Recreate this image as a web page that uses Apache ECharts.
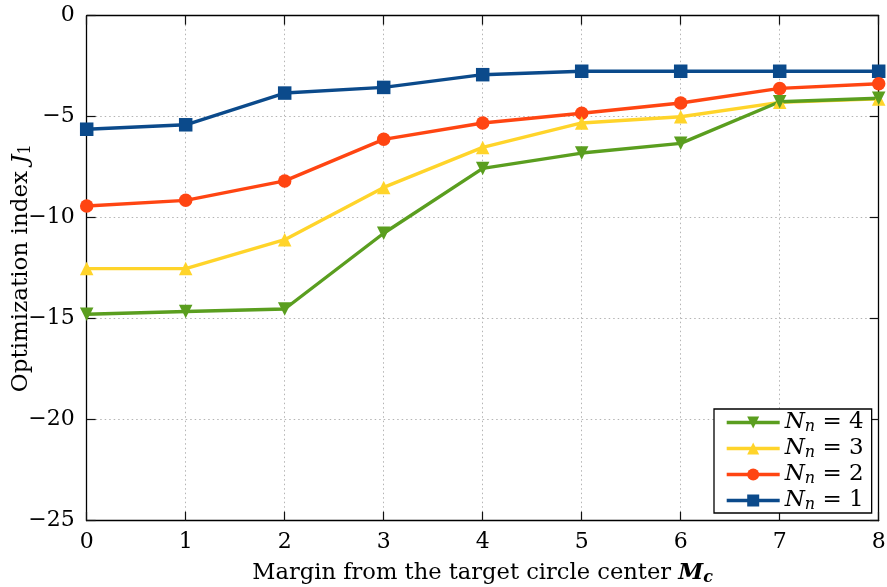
<!DOCTYPE html>
<html>
<head>
<meta charset="utf-8">
<script src="https://cdn.jsdelivr.net/npm/echarts@6/dist/echarts.min.js"></script>
<style>
  html, body { margin: 0; padding: 0; background: #fff; }
  #chart { width: 887px; height: 587px; }
</style>
</head>
<body>
<div id="chart"></div>
<script>
// Margin values on the x axis
const margins = [0, 1, 2, 3, 4, 5, 6, 7, 8];
// Optimization index J1 for each number of nodes N_n
const nn1 = [-5.62, -5.40, -3.83, -3.55, -2.92, -2.75, -2.75, -2.75, -2.75];
const nn2 = [-9.42, -9.14, -8.18, -6.12, -5.31, -4.83, -4.32, -3.60, -3.37];
const nn3 = [-12.52, -12.52, -11.09, -8.50, -6.52, -5.31, -5.00, -4.29, -4.12];
const nn4 = [-14.78, -14.64, -14.52, -10.77, -7.56, -6.80, -6.32, -4.26, -4.09];
const legendOrder = ['Nn4', 'Nn3', 'Nn2', 'Nn1'];
const legendLabels = { Nn4: '4', Nn3: '3', Nn2: '2', Nn1: '1' };

const FONT = 'DejaVu Serif';
const minus = v => String(v).replace('-', '\u2212');

const chart = echarts.init(document.getElementById('chart'));

function lineSeries(name, data, color, symbol, size, rotate) {
  return {
    name: name,
    type: 'line',
    data: margins.map((m, i) => [m, data[i]]),
    symbol: symbol,
    symbolSize: size,
    symbolRotate: rotate || 0,
    lineStyle: { color: color, width: 3.4 },
    itemStyle: { color: color },
    emphasis: { disabled: true },
    animation: false,
    clip: false
  };
}

const gridLine = { show: true, lineStyle: { color: '#b4b4b4', type: [1.5, 3], width: 1 } };
const axisLine = { show: true, onZero: false, lineStyle: { color: '#000', width: 1.3 } };
const tick = { show: true, inside: true, length: 9, lineStyle: { color: '#111', width: 1.2 } };

chart.setOption({
  backgroundColor: '#fff',
  animation: false,
  grid: {
    left: 86.7, right: 8.3, top: 15.7, bottom: 66.3,
    containLabel: false, outerBoundsMode: 'none'
  },
  xAxis: [{
    type: 'value', min: 0, max: 8, interval: 1,
    axisLine: axisLine, axisTick: tick, splitLine: gridLine,
    axisLabel: { color: '#000', fontFamily: FONT, fontSize: 22, margin: 11 },
    name: '{t|Margin from the target circle center }{m|M}{c|c}',
    nameLocation: 'middle', nameGap: 40, nameMoveOverlap: false,
    nameTextStyle: {
      rich: {
        t: { fontFamily: FONT, fontSize: 22.6, color: '#000' },
        m: { fontFamily: FONT, fontSize: 22.6, fontStyle: 'italic', fontWeight: 'bold', color: '#000' },
        c: { fontFamily: FONT, fontSize: 16, fontStyle: 'italic', fontWeight: 'bold', color: '#000', padding: [9, 0, 0, 0] }
      }
    }
  }, {
    type: 'value', min: 0, max: 8, interval: 1, position: 'top',
    axisLine: axisLine, axisTick: tick, axisLabel: { show: false }, splitLine: { show: false }
  }],
  yAxis: [{
    type: 'value', min: -25, max: 0, interval: 5,
    axisLine: axisLine, axisTick: tick, splitLine: gridLine,
    axisLabel: { color: '#000', fontFamily: FONT, fontSize: 22, margin: 12, formatter: minus },
    name: '{t|Optimization index }{j|J}{s|1}',
    nameLocation: 'middle', nameGap: 53, nameRotate: 90, nameMoveOverlap: false,
    nameTextStyle: {
      rich: {
        t: { fontFamily: FONT, fontSize: 23, color: '#000' },
        j: { fontFamily: FONT, fontSize: 23, fontStyle: 'italic', color: '#000' },
        s: { fontFamily: FONT, fontSize: 16, color: '#000', padding: [9, 0, 0, 0] }
      }
    }
  }, {
    type: 'value', min: -25, max: 0, interval: 5, position: 'right',
    axisLine: axisLine, axisTick: tick, axisLabel: { show: false }, splitLine: { show: false }
  }],
  legend: {
    data: legendOrder,
    orient: 'vertical',
    left: 714, top: 409, width: 153,
    padding: [2, 8, 0, 11],
    itemWidth: 53, itemHeight: 15, itemGap: 2,
    backgroundColor: '#fff',
    borderColor: '#000', borderWidth: 1.3,
    selectedMode: false,
    lineStyle: { width: 3.4 },
    formatter: name => '{n|N}{s|n}{e| = ' + legendLabels[name] + '}',
    textStyle: {
      rich: {
        n: { fontFamily: FONT, fontSize: 23, fontStyle: 'italic', color: '#000' },
        s: { fontFamily: FONT, fontSize: 16, fontStyle: 'italic', color: '#000', padding: [9, 0, 0, 0] },
        e: { fontFamily: FONT, fontSize: 23, color: '#000' }
      }
    }
  },
  series: [
    lineSeries('Nn1', nn1, '#0b4a8b', 'rect', 13.5),
    lineSeries('Nn2', nn2, '#ff4512', 'circle', 13.5),
    lineSeries('Nn3', nn3, '#ffd42a', 'triangle', 13.5),
    lineSeries('Nn4', nn4, '#5a9e1f', 'triangle', 13.5, 180)
  ]
});
</script>
</body>
</html>
